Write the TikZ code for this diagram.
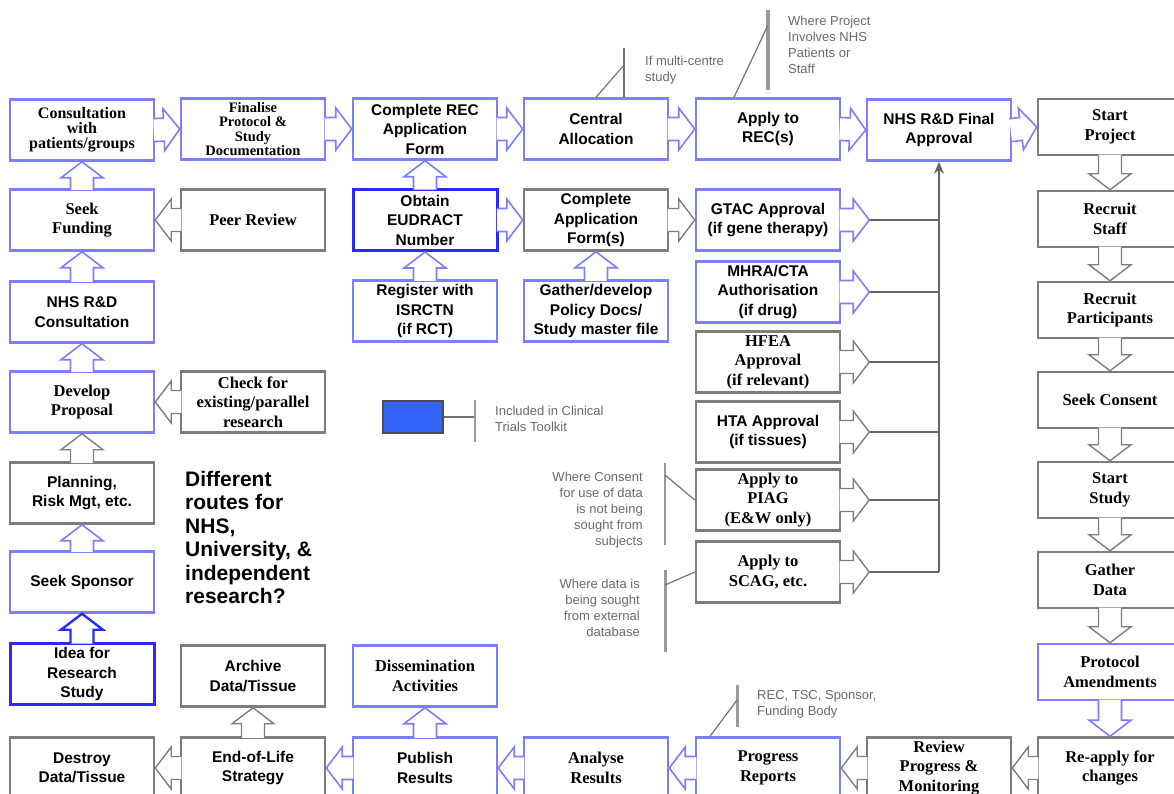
\documentclass[tikz,border=0pt]{standalone}
\usepackage{fontspec}
\setmainfont{Liberation Serif}
\setsansfont{Liberation Sans}
\usetikzlibrary{calc,arrows.meta,positioning}
\definecolor{boxblue}{RGB}{125,125,255}
\definecolor{deepblue}{RGB}{40,40,255}
\definecolor{boxgray}{RGB}{125,125,125}
\definecolor{notegray}{RGB}{105,105,105}
\definecolor{kitblue}{RGB}{50,100,250}
\tikzstyle{feed} = [line width=2.5pt, ->, >={Stealth[length=12pt,width=10pt]}, draw=black!60]

% hollow block arrow from one anchor to another
\newcommand{\blockarrow}[3][barrowblue]{%
  \coordinate (ba-s) at ($(#2)!-1.6pt!(#3)$);
  \coordinate (ba-t) at (#3);
  \coordinate (ba-h) at ($(ba-t)!16pt!(ba-s)$);
  \draw[#1] ($(ba-s)!11.5pt!90:(ba-t)$) -- ($(ba-h)!11.5pt!-90:(ba-s)$)
    -- ($(ba-h)!21pt!-90:(ba-s)$) -- (ba-t) -- ($(ba-h)!21pt!90:(ba-s)$)
    -- ($(ba-h)!11.5pt!90:(ba-s)$) -- ($(ba-s)!11.5pt!-90:(ba-t)$);
}

\begin{document}
\begin{tikzpicture}[x=1pt,y=-1pt]
\tikzset{
  bbox/.style={draw=boxblue, line width=2.5pt, fill=white, minimum width=144pt,
    minimum height=61pt, align=center, inner sep=1pt,
    font=\bfseries\fontsize{16.5}{19.5}\selectfont},
  gbox/.style={bbox, draw=boxgray},
  dbox/.style={bbox, draw=deepblue, line width=3pt},
  short/.style={minimum height=56pt},
  sans/.style={font=\sffamily\bfseries\fontsize{15.5}{19.5}\selectfont},
  barrowblue/.style={draw=boxblue, line width=1.6pt, fill=white},
  barrowgray/.style={draw=boxgray, line width=1.4pt, fill=white},
  barrowdeep/.style={draw=deepblue, line width=2.4pt, fill=white},
  note/.style={font=\sffamily\fontsize{13}{16}\selectfont, text=notegray, inner sep=0pt},
  noteline/.style={draw=black!55, line width=1.2pt},
  notebar/.style={draw=black!40, line width=3pt},
  feedline/.style={draw=black!60, line width=2.5pt}
}
\useasboundingbox (0,0) rectangle (1174,793);

% left column
\node[bbox, font=\bfseries\fontsize{16}{15}\selectfont] (cons) at (82,130) {Consultation\\with\\patients/groups};
\node[bbox] (fund) at (82,220) {Seek\\Funding};
\node[bbox, sans] (nhscons) at (82,312) {NHS R\&D\\Consultation};
\node[bbox] (devprop) at (82,402) {Develop\\Proposal};
\node[gbox, sans] (plan) at (82,493) {Planning,\\Risk Mgt, etc.};
\node[bbox, sans] (sponsor) at (82,582) {Seek Sponsor};
\node[dbox, sans] (idea) at (82,674) {Idea for\\Research\\Study};
\node[gbox, sans] (destroy) at (82,768) {Destroy\\Data/Tissue};

% second column
\node[bbox, font=\bfseries\fontsize{14.5}{14.5}\selectfont] (fin) at (253,129) {Finalise\\Protocol \&\\Study\\Documentation};
\node[gbox] (peer) at (253,220) {Peer Review};
\node[gbox] (check) at (253,402) {Check for\\existing/parallel\\research};
\node[gbox, sans] (archive) at (253,676) {Archive\\Data/Tissue};
\node[gbox, sans] (eol) at (253,768) {End-of-Life\\Strategy};

% third column
\node[bbox, sans] (rec) at (425,129) {Complete REC\\Application\\Form};
\node[dbox, sans] (eudract) at (425,220) {Obtain\\EUDRACT\\Number};
\node[bbox, sans] (isrctn) at (425,311) {Register with\\ISRCTN\\(if RCT)};
\node[bbox] (dissem) at (425,676) {Dissemination\\Activities};
\node[bbox, sans] (publish) at (425,768) {Publish\\Results};

% fourth column
\node[bbox, sans] (alloc) at (596,129) {Central\\Allocation};
\node[gbox, sans] (appform) at (596,220) {Complete\\Application\\Form(s)};
\node[bbox, sans] (policy) at (596,311) {Gather/develop\\Policy Docs/\\Study master file};
\node[bbox] (analyse) at (596,768) {Analyse\\Results};

% approvals column
\node[bbox, sans] (apply) at (768,129) {Apply to\\REC(s)};
\node[bbox, sans] (gtac) at (768,220) {GTAC Approval\\(if gene therapy)};
\node[bbox, sans] (mhra) at (768,292) {MHRA/CTA\\Authorisation\\(if drug)};
\node[gbox] (hfea) at (768,362) {HFEA\\Approval\\(if relevant)};
\node[gbox, sans] (hta) at (768,432) {HTA Approval\\(if tissues)};
\node[gbox] (piag) at (768,500) {Apply to\\PIAG\\(E\&W only)};
\node[gbox] (scag) at (768,572) {Apply to\\SCAG, etc.};
\node[bbox] (progress) at (768,768) {Progress\\Reports};

% sixth column
\node[bbox, sans] (nhsrd) at (939,130) {NHS R\&D Final\\Approval};
\node[gbox] (review) at (939,768) {Review\\Progress \&\\Monitoring};

% right column
\node[gbox, short] (startp) at (1110,127) {Start\\Project};
\node[gbox, short] (staff) at (1110,219) {Recruit\\Staff};
\node[gbox, short] (partic) at (1110,310) {Recruit\\Participants};
\node[gbox, short] (consent) at (1110,400) {Seek Consent};
\node[gbox, short] (startst) at (1110,490) {Start\\Study};
\node[gbox, short] (gather) at (1110,580) {Gather\\Data};
\node[bbox, short] (protam) at (1110,672) {Protocol\\Amendments};
\node[gbox] (reapply) at (1110,768) {Re-apply for\\changes};

% left column arrows
\blockarrow[barrowdeep]{idea.north}{sponsor.south}
\blockarrow{sponsor.north}{plan.south}
\blockarrow[barrowgray]{plan.north}{devprop.south}
\blockarrow{devprop.north}{nhscons.south}
\blockarrow{nhscons.north}{fund.south}
\blockarrow{fund.north}{cons.south}
\blockarrow[barrowgray]{peer.west}{fund.east}
\blockarrow[barrowgray]{check.west}{devprop.east}

% top row
\blockarrow{cons.east}{fin.west}
\blockarrow{fin.east}{rec.west}
\blockarrow{rec.east}{alloc.west}
\blockarrow{alloc.east}{apply.west}
\blockarrow{apply.east}{nhsrd.west}
\blockarrow{nhsrd.east}{startp.west}

% applications
\blockarrow{isrctn.north}{eudract.south}
\blockarrow{eudract.north}{rec.south}
\blockarrow{eudract.east}{appform.west}
\blockarrow{policy.north}{appform.south}
\blockarrow[barrowgray]{appform.east}{gtac.west}

% approvals into final approval
\foreach \n/\s in {gtac/barrowblue,mhra/barrowblue,hfea/barrowgray,hta/barrowgray,piag/barrowgray,scag/barrowgray} {
  \coordinate (\n-t) at ([xshift=28pt]\n.east);
  \draw[feedline] (\n-t) -- (\n-t -| nhsrd.south);
  \blockarrow[\s]{\n.east}{\n-t}
}
\draw[feed] (scag-t -| nhsrd.south) -- (nhsrd.south);

% right column
\blockarrow[barrowgray]{startp.south}{staff.north}
\blockarrow[barrowgray]{staff.south}{partic.north}
\blockarrow[barrowgray]{partic.south}{consent.north}
\blockarrow[barrowgray]{consent.south}{startst.north}
\blockarrow[barrowgray]{startst.south}{gather.north}
\blockarrow[barrowgray]{gather.south}{protam.north}
\blockarrow{protam.south}{reapply.north}

% bottom row
\blockarrow[barrowgray]{reapply.west}{review.east}
\blockarrow[barrowgray]{review.west}{progress.east}
\blockarrow{progress.west}{analyse.east}
\blockarrow{analyse.west}{publish.east}
\blockarrow{publish.west}{eol.east}
\blockarrow[barrowgray]{eol.west}{destroy.east}
\blockarrow[barrowgray]{eol.north}{archive.south}
\blockarrow{publish.north}{dissem.south}

% notes
\coordinate (multi-a) at (624,48);
\coordinate (multi-b) at (624,65);
\draw[noteline] (multi-a) -- (multi-a |- alloc.north);
\draw[noteline] (alloc.north) -- (multi-b);
\node[note, anchor=north west, align=left] (multinote) at (645,56) {If multi-centre\\study};

\coordinate (proj-a) at (768,10);
\coordinate (proj-b) at (768,90);
\coordinate (proj-c) at (768,25);
\draw[notebar, line width=4pt] (proj-a) -- (proj-b);
\draw[noteline] ([xshift=-34pt]apply.north) -- (proj-c);
\node[note, anchor=north west, align=left] (projnote) at (788,16) {Where Project\\Involves NHS\\Patients or\\Staff};

\coordinate (rev-a) at (737,685);
\coordinate (rev-b) at (737,727);
\coordinate (rev-c) at (737,700);
\draw[notebar] (rev-a) -- (rev-b);
\draw[noteline] ([xshift=-58pt]progress.north) -- (rev-c);
\node[note, anchor=north west, align=left] (revnote) at (757,690) {REC, TSC, Sponsor,\\Funding Body};

\coordinate (cons-a) at (665,463);
\coordinate (cons-b) at (665,545);
\coordinate (cons-c) at (665,475);
\draw[notebar, line width=2pt] (cons-a) -- (cons-b);
\draw[noteline] (cons-c) -- (piag.west);
\node[note, anchor=north east, align=right] (consnote) at (643,472) {Where Consent\\for use of data\\is not being\\sought from\\subjects};

\coordinate (data-a) at (665,570);
\coordinate (data-b) at (665,652);
\coordinate (data-c) at (665,585);
\draw[notebar] (data-a) -- (data-b);
\draw[noteline] (data-c) -- (scag.west);
\node[note, anchor=north east, align=right] (datanote) at (640,579) {Where data is\\being sought\\from external\\database};

% legend
\node[draw=black!70, line width=2pt, fill=kitblue, minimum width=60pt, minimum height=32pt] (kit) at (413,417) {};
\coordinate (kit-bar) at (475,417);
\draw[line width=2pt, draw=black!55] (kit.east) -- (kit-bar);
\draw[notebar, line width=2pt] ([yshift=17pt]kit-bar) -- ([yshift=-25pt]kit-bar);
\node[note, anchor=north west, align=left] (kitnote) at (495,406) {Included in Clinical\\Trials Toolkit};

\node[anchor=north west, align=left, inner sep=0pt, font=\sffamily\bfseries\fontsize{21}{23.5}\selectfont] (routes) at (185,471) {Different\\routes for\\NHS,\\University, \&\\independent\\research?};

\end{tikzpicture}
\end{document}
